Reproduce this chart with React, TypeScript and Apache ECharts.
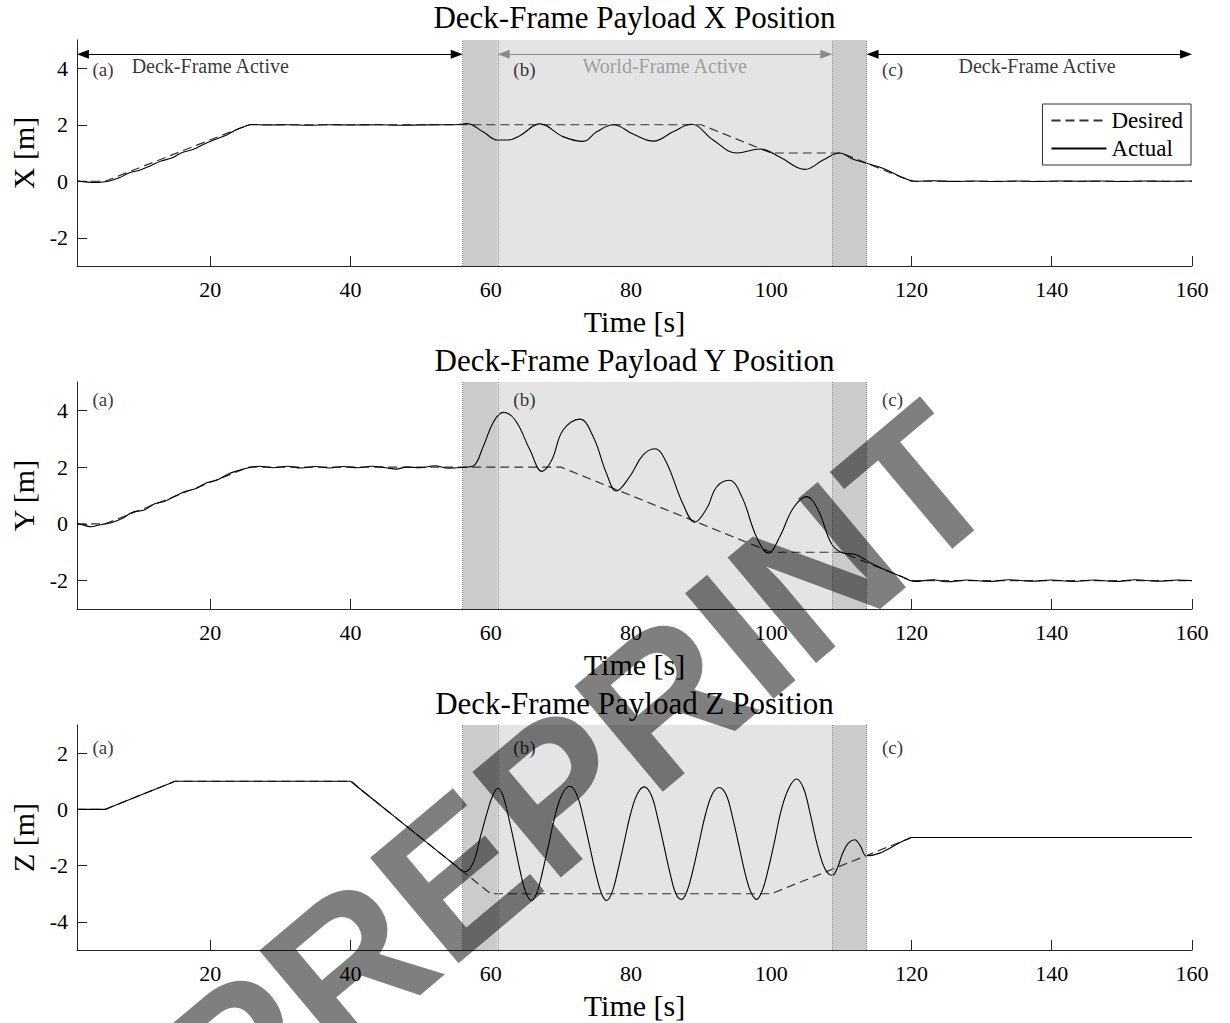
import { useEffect, useRef } from "react";
import * as echarts from "echarts";

const SERIF = '"Liberation Serif", "Times New Roman", serif';
const INK = "#262626";

// Axis ticks
const timeTicks = [20, 40, 60, 80, 100, 120, 140, 160];
const xPosTicks = [-2, 0, 2, 4];
const yPosTicks = [-2, 0, 2, 4];
const zPosTicks = [-4, -2, 0, 2];

// Phase boundaries [s]: hand-over start, world-frame start, world-frame end, hand-over end
const phaseBounds = [56, 61, 108.7, 113.6];

// X position [m]
const xDesired = [
  [1, 0], [5, 0], [25.5, 2], [90, 2], [100, 1], [110, 1], [120, 0], [160, 0],
];
const xActual = [
  [1, 0.02], [2.5, -0.03], [4, -0.04], [5.5, 0.0], [7, 0.12], [8.5, 0.3], [10, 0.4],
  [11.5, 0.55], [13, 0.72], [14.5, 0.82], [16, 1.02], [17.5, 1.12], [19, 1.3],
  [20.5, 1.46], [22, 1.6], [23.5, 1.8], [25, 1.95], [26, 2.01], [28, 1.99], [31, 2.0],
  [34, 1.98], [37, 2.0], [40, 1.99], [44, 2.0], [47, 1.98], [50, 1.99], [53, 2.0],
  [54.5, 2.0], [56.6, 2.04], [58.9, 1.75], [61.0, 1.46], [62.5, 1.46], [64.2, 1.62],
  [67.0, 2.03], [70.3, 1.58], [73.2, 1.41], [75.1, 1.75], [77.5, 2.0], [80.3, 1.67],
  [83.2, 1.42], [86.0, 1.75], [88.6, 2.02], [91.7, 1.46], [95.1, 1.0], [98.4, 1.14],
  [101.2, 0.86], [104.8, 0.42], [107.4, 0.75], [109.8, 1.0], [111.5, 0.8],
  [113.6, 0.64], [116, 0.45], [118.4, 0.17], [120.5, 0.0], [123, 0.02], [126, -0.01],
  [129, 0.01], [132, -0.01], [135, 0.01], [138, -0.01], [141, 0.01], [144, 0.0],
  [147, 0.01], [150, -0.01], [153, 0.01], [156, 0.0], [160, 0.01],
];

// Y position [m]
const yDesired = [
  [1, 0], [5, 0], [25.5, 2], [70, 2], [100, -1], [110, -1], [120, -2], [160, -2],
];
const yActual = [
  [1, 0.02], [2, -0.05], [3, -0.1], [4, -0.05], [5, 0.0], [6, 0.05], [7.5, 0.2],
  [9, 0.42], [10.5, 0.48], [12, 0.7], [13.5, 0.8], [15, 0.98], [16.5, 1.15],
  [18, 1.25], [19.5, 1.45], [21, 1.55], [22.5, 1.75], [24, 1.88], [25.5, 1.98],
  [27, 2.03], [29, 1.98], [31, 2.03], [33, 1.97], [35, 2.02], [37, 1.97], [39, 2.02],
  [41, 1.98], [43, 2.03], [45, 1.98], [46.5, 1.93], [48, 2.0], [50, 1.98], [52, 2.05],
  [54, 1.96], [56, 1.99], [57.5, 2.04], [58.9, 2.71], [60.4, 3.6], [61.8, 3.93],
  [63.5, 3.65], [65.6, 2.6], [67.3, 1.85], [68.7, 2.25], [70.3, 3.3], [72.7, 3.69],
  [74.6, 3.08], [76.5, 1.78], [77.9, 1.16], [79.8, 1.66], [81.7, 2.42], [83.4, 2.65],
  [85.0, 2.19], [87.4, 0.71], [89.1, 0.06], [90.8, 0.54], [92.2, 1.3], [94.0, 1.54],
  [95.8, 0.96], [97.9, -0.46], [99.6, -1.03], [101.2, -0.46], [103.1, 0.54],
  [105.0, 0.96], [106.7, 0.48], [108.6, -0.7], [110.3, -1.03], [111.9, -1.07],
  [114.1, -1.37], [116.2, -1.62], [118.4, -1.84], [120.5, -2.03], [123, -1.97],
  [125, -2.04], [128, -1.98], [131, -2.03], [134, -1.97], [137, -2.02], [140, -1.98],
  [143, -2.03], [146, -1.98], [149, -2.03], [152, -1.97], [155, -2.02], [158, -1.98],
  [160, -2.0],
];

// Z position [m]
const zDesired = [
  [1, 0], [5, 0], [15, 1], [40, 1], [60, -3], [100, -3], [120, -1], [160, -1],
];
const zActual = [
  [1, 0], [4.5, 0], [5, 0], [5.6, 0.06], [14.4, 0.94], [15, 1], [15.8, 1], [39, 1],
  [40, 1], [40.8, 0.84], [55, -2.0], [56.3, -2.22], [57.5, -1.9], [58.5, -1.0],
  [59.5, -0.1], [60.3, 0.5], [61.0, 0.75], [61.8, 0.45], [62.6, -0.35], [63.4, -1.25],
  [64.2, -2.2], [65.0, -2.95], [65.8, -3.24], [66.6, -2.95], [67.4, -2.2], [68.3, -1.2],
  [69.2, -0.2], [70.2, 0.55], [71.3, 0.82], [72.3, 0.5], [73.2, -0.3], [74.1, -1.3],
  [75.0, -2.3], [75.8, -3.0], [76.5, -3.24], [77.3, -2.95], [78.1, -2.2], [79.0, -1.2],
  [79.9, -0.2], [80.9, 0.55], [81.9, 0.8], [82.9, 0.5], [83.8, -0.3], [84.7, -1.3],
  [85.6, -2.3], [86.4, -3.0], [87.2, -3.2], [88.0, -2.9], [88.8, -2.2], [89.7, -1.2],
  [90.6, -0.2], [91.6, 0.55], [92.6, 0.78], [93.6, 0.5], [94.5, -0.3], [95.4, -1.3],
  [96.3, -2.3], [97.1, -2.95], [97.9, -3.2], [98.7, -2.9], [99.6, -2.1], [100.5, -1.1],
  [101.4, -0.05], [102.5, 0.75], [103.6, 1.08], [104.6, 0.75], [105.5, -0.1],
  [106.4, -1.1], [107.3, -1.9], [108.0, -2.25], [108.7, -2.35], [109.4, -2.1],
  [110.2, -1.55], [111.0, -1.2], [111.9, -1.08], [112.7, -1.3], [113.6, -1.65],
  [119.4, -1.06], [120, -1], [121, -1], [160, -1],
];

const panelTitles = [
  "Deck-Frame Payload X Position",
  "Deck-Frame Payload Y Position",
  "Deck-Frame Payload Z Position",
];
const panelAxisNames = ["X [m]", "Y [m]", "Z [m]"];
const panelTicks = [xPosTicks, yPosTicks, zPosTicks];
const panelRanges = [[-3, 5], [-3, 5], [-5, 3]];
const panelDesired = [xDesired, yDesired, zDesired];
const panelActual = [xActual, yActual, zActual];

const phaseTags = ["(a)", "(b)", "(c)"];
const phaseTagTimes = [4.7, 64.8, 117.3];
const phaseTagLevels = [3.95, 4.4, 2.2];

const modeNames = ["Deck-Frame Active", "World-Frame Active", "Deck-Frame Active"];
const modeNameTimes = [20, 84.8, 137.9];
const modeNameLevel = 4.07;
const modeArrowLevel = 4.5;
const modeSpans = [[1, 56], [61, 108.7], [113.6, 160]];
const modeColors = ["#000000", "#8a8a8a", "#000000"];
// arrowheads are centred on their end point; pull them in by half a head so the tips meet the bounds
const ARROW_INSET = 0.85;

// Layout of the three stacked panels
const GRID_LEFT = 77;
const GRID_WIDTH = 1115;
const gridTops = [40, 382, 725];
const gridHeights = [226, 227, 225];
const titleCenters = [17, 360, 703];

function buildOption() {
  const grid = gridTops.map((top, i) => ({
    left: GRID_LEFT,
    top,
    width: GRID_WIDTH,
    height: gridHeights[i],
    containLabel: false,
  }));

  const xAxis = gridTops.map((_, i) => ({
    type: "value",
    gridIndex: i,
    min: 1,
    max: 160,
    name: "Time [s]",
    nameLocation: "middle",
    nameGap: 40,
    nameTextStyle: { fontFamily: SERIF, fontSize: 30, color: "#000" },
    axisLine: { show: true, onZero: false, lineStyle: { color: INK, width: 1 } },
    axisTick: {
      show: true,
      inside: true,
      length: 10,
      customValues: timeTicks,
      lineStyle: { color: INK, width: 1 },
    },
    axisLabel: {
      show: true,
      customValues: timeTicks,
      margin: 12,
      fontFamily: SERIF,
      fontSize: 22,
      color: "#000",
    },
    splitLine: { show: false },
  }));

  const yAxis = gridTops.map((_, i) => ({
    type: "value",
    gridIndex: i,
    min: panelRanges[i][0],
    max: panelRanges[i][1],
    name: panelAxisNames[i],
    nameLocation: "middle",
    nameGap: 38,
    nameTextStyle: { fontFamily: SERIF, fontSize: 30, color: "#000" },
    axisLine: { show: true, onZero: false, lineStyle: { color: INK, width: 1 } },
    axisTick: {
      show: true,
      inside: true,
      length: 10,
      customValues: panelTicks[i],
      lineStyle: { color: INK, width: 1 },
    },
    axisLabel: {
      show: true,
      customValues: panelTicks[i],
      margin: 9,
      fontFamily: SERIF,
      fontSize: 22,
      color: "#000",
    },
    splitLine: { show: false },
  }));

  const series: any[] = [];
  gridTops.forEach((_, i) => {
    // Phase shading and boundary lines
    series.push({
      type: "line",
      name: "phases-" + i,
      xAxisIndex: i,
      yAxisIndex: i,
      data: [],
      silent: true,
      z: 1,
      markArea: {
        silent: true,
        data: [
          [{ xAxis: phaseBounds[0], itemStyle: { color: "#cbcbcb" } }, { xAxis: phaseBounds[1] }],
          [{ xAxis: phaseBounds[1], itemStyle: { color: "#e4e4e4" } }, { xAxis: phaseBounds[2] }],
          [{ xAxis: phaseBounds[2], itemStyle: { color: "#cbcbcb" } }, { xAxis: phaseBounds[3] }],
        ],
      },
      markLine: {
        silent: true,
        symbol: "none",
        label: { show: false },
        lineStyle: { type: "dotted", color: "#8c8c8c", width: 1 },
        data: phaseBounds.map((b) => ({ xAxis: b })),
      },
    });

    series.push({
      type: "line",
      name: "Desired",
      xAxisIndex: i,
      yAxisIndex: i,
      data: panelDesired[i],
      symbol: "none",
      silent: true,
      lineStyle: { type: [9, 5], color: "#333333", width: 1.2 },
      itemStyle: { color: "#333333" },
      z: 3,
    });

    series.push({
      type: "line",
      name: "Actual",
      xAxisIndex: i,
      yAxisIndex: i,
      data: panelActual[i],
      symbol: "none",
      silent: true,
      smooth: 0.4,
      lineStyle: { type: "solid", color: "#000000", width: 1.1 },
      itemStyle: { color: "#000000" },
      z: 4,
    });

    series.push({
      type: "scatter",
      name: "tags-" + i,
      xAxisIndex: i,
      yAxisIndex: i,
      silent: true,
      symbolSize: 0,
      z: 5,
      data: phaseTags.map((tag, k) => ({ name: tag, value: [phaseTagTimes[k], phaseTagLevels[i]] })),
      label: {
        show: true,
        position: "inside",
        formatter: "{b}",
        fontFamily: SERIF,
        fontSize: 19,
        color: "#000",
      },
    });
  });

  // Controller mode spans in the top panel
  series.push({
    type: "line",
    name: "modes",
    xAxisIndex: 0,
    yAxisIndex: 0,
    data: [],
    silent: true,
    z: 5,
    markLine: {
      silent: true,
      symbol: ["triangle", "triangle"],
      symbolSize: [9, 12],
      label: { show: false },
      data: modeSpans.map((span, k) => [
        {
          coord: [span[0] + ARROW_INSET, modeArrowLevel],
          lineStyle: { color: modeColors[k], width: 1.2, type: "solid" },
          itemStyle: { color: modeColors[k] },
        },
        { coord: [span[1] - ARROW_INSET, modeArrowLevel] },
      ]),
    },
  });
  series.push({
    type: "scatter",
    name: "mode-names",
    xAxisIndex: 0,
    yAxisIndex: 0,
    silent: true,
    symbolSize: 0,
    z: 5,
    data: modeNames.map((m, k) => ({
      name: m,
      value: [modeNameTimes[k], modeNameLevel],
      label: { color: modeColors[k] },
    })),
    label: {
      show: true,
      position: "inside",
      formatter: "{b}",
      fontFamily: SERIF,
      fontSize: 20,
    },
  });

  const graphic: any[] = panelTitles.map((t, i) => ({
    type: "text",
    x: GRID_LEFT + GRID_WIDTH / 2,
    y: titleCenters[i],
    silent: true,
    style: {
      text: t,
      fontFamily: SERIF,
      fontSize: 31,
      fill: "#000",
      align: "center",
      verticalAlign: "middle",
    },
  }));
  // Preprint stamp across the figure
  graphic.push({
    type: "text",
    x: 578,
    y: 772,
    rotation: (40 * Math.PI) / 180,
    silent: true,
    z: 100,
    style: {
      text: "PREPRINT",
      fontFamily: '"Liberation Sans", Arial, sans-serif',
      fontWeight: "bold",
      fontSize: 200,
      fill: "rgba(0,0,0,0.5)",
      align: "center",
      verticalAlign: "middle",
    },
  });

  return {
    animation: false,
    backgroundColor: "#ffffff",
    grid,
    xAxis,
    yAxis,
    legend: {
      show: true,
      data: ["Desired", "Actual"],
      orient: "vertical",
      right: 39,
      top: 104,
      padding: [5, 8, 5, 8],
      itemGap: 5,
      itemWidth: 55,
      itemHeight: 14,
      backgroundColor: "#ffffff",
      borderColor: "#333333",
      borderWidth: 1,
      borderRadius: 0,
      selectedMode: false,
      itemStyle: { opacity: 0 },
      textStyle: { fontFamily: SERIF, fontSize: 23, color: "#000", lineHeight: 22 },
    },
    graphic,
    series,
  };
}

export default function App() {
  const ref = useRef<HTMLDivElement>(null);
  useEffect(() => {
    if (!ref.current) return;
    const chart = echarts.init(ref.current, undefined, { renderer: "svg" });
    chart.setOption(buildOption() as any);
    return () => chart.dispose();
  }, []);
  return (
    <div
      ref={ref}
      style={{ position: "fixed", left: 0, top: 0, width: 1230, height: 1023, background: "#fff" }}
    />
  );
}
